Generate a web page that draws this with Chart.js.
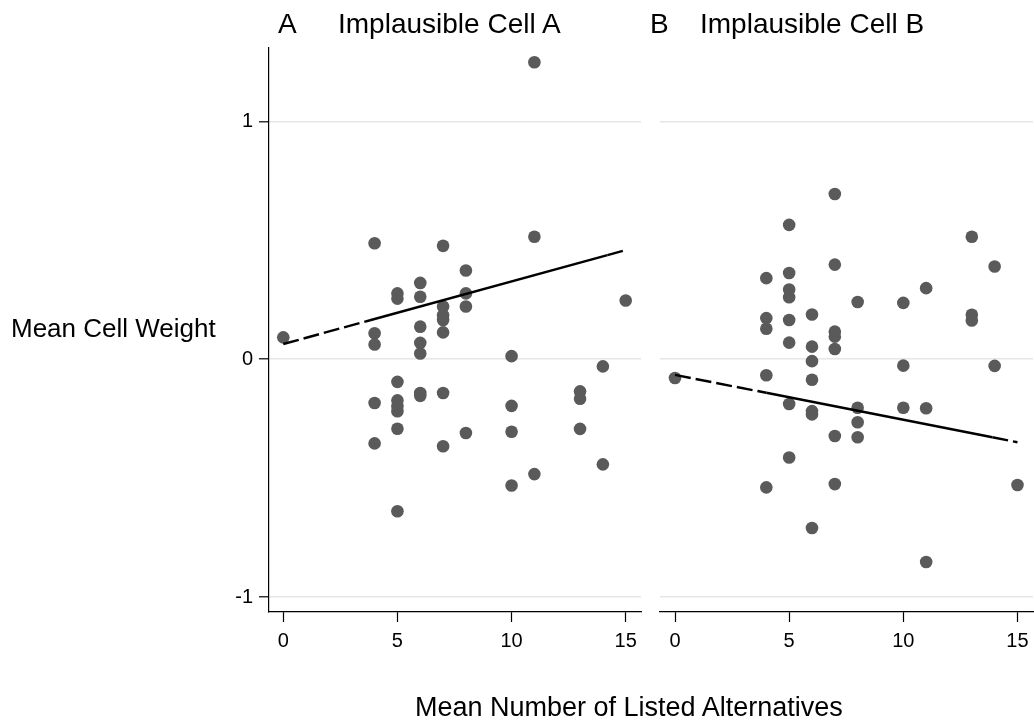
<!DOCTYPE html>
<html>
<head>
<meta charset="utf-8">
<script src="https://cdn.jsdelivr.net/npm/chart.js@4/dist/chart.umd.min.js"></script>
<style>
  html, body { margin: 0; padding: 0; background: #fff; }
  body { width: 1034px; height: 724px; position: relative; overflow: hidden; font-family: "Liberation Sans", Arial, sans-serif; color: #000; }
  canvas { position: absolute; top: 0; }
  .t { position: absolute; white-space: nowrap; line-height: 1; }
</style>
</head>
<body>
<canvas id="cA" width="650" height="724" style="left:0;width:650px;height:724px"></canvas>
<canvas id="cB" width="384" height="724" style="left:650px;width:384px;height:724px"></canvas>
<div class="t" style="left:278px;top:10px;font-size:28px">A</div>
<div class="t" style="left:338px;top:10px;font-size:28px">Implausible Cell A</div>
<div class="t" style="left:650px;top:10px;font-size:28px">B</div>
<div class="t" style="left:700px;top:10px;font-size:28px">Implausible Cell B</div>
<div class="t" style="left:11px;top:315px;font-size:26px">Mean Cell Weight</div>
<div class="t" style="left:415px;top:694px;font-size:27px">Mean Number of Listed Alternatives</div>
<script>
// ---- data ----
const xTicks = [0, 5, 10, 15];
const yTicks = [-1, 0, 1];

const aX = [0, 4,4,4,4,4, 5,5,5,5,5,5,5,5, 6,6,6,6,6,6,6, 7,7,7,7,7,7,7, 8,8,8,8, 10,10,10,10, 11,11,11, 13,13,13, 14,14, 15];
const aY = [0.092,
  0.488, 0.109, 0.062, -0.184, -0.354,
  0.277, 0.255, -0.095, -0.173, -0.198, -0.219, -0.292, -0.639,
  0.321, 0.263, 0.137, 0.069, 0.024, -0.142, -0.154,
  0.477, 0.222, 0.185, 0.165, 0.113, -0.142, -0.366,
  0.373, 0.277, 0.222, -0.310,
  0.013, -0.196, -0.305, -0.531,
  1.249, 0.515, -0.483,
  -0.135, -0.166, -0.293,
  -0.030, -0.442,
  0.247];

const bX = [0, 4,4,4,4,4, 5,5,5,5,5,5,5,5, 6,6,6,6,6,6,6, 7,7,7,7,7,7,7, 8,8,8,8, 10,10,10, 11,11,11, 13,13,13, 14,14, 15];
const bY = [-0.079,
  0.341, 0.173, 0.128, -0.067, -0.539,
  0.565, 0.363, 0.293, 0.261, 0.165, 0.070, -0.188, -0.413,
  0.188, 0.053, -0.008, -0.086, -0.218, -0.232, -0.710,
  0.695, 0.398, 0.116, 0.095, 0.043, -0.323, -0.525,
  0.241, -0.204, -0.265, -0.328,
  0.237, -0.027, -0.204,
  0.299, -0.206, -0.853,
  0.515, 0.187, 0.163,
  0.390, -0.028,
  -0.529];

// fitted lines (dashed outside the bulk of data, solid inside)
const fitAX = [0, 3.8, 14.2, 15];
const fitAY = [0.064, 0.164, 0.438, 0.459];
const fitBX = [0, 4.0, 13.9, 15];
const fitBY = [-0.066, -0.141, -0.328, -0.349];
const fitSolid = [false, true, false]; // per segment

const pointColor = '#5a5a5a';
const fontFamily = '"Liberation Sans", Arial, sans-serif';

function pts(xs, ys) { return xs.map((x, i) => ({ x: x, y: ys[i] })); }

function makeChart(id, xs, ys, fx, fy, opts) {
  return new Chart(document.getElementById(id), {
    type: 'scatter',
    data: {
      datasets: [
        {
          type: 'line',
          data: pts(fx, fy),
          borderColor: '#000',
          borderWidth: 2.4,
          pointRadius: 0,
          fill: false,
          tension: 0,
          order: 0,
          clip: false,
          segment: {
            borderDash: ctx => fitSolid[ctx.p0DataIndex] ? [] : [16, 5]
          }
        },
        {
          data: pts(xs, ys),
          backgroundColor: pointColor,
          borderColor: pointColor,
          borderWidth: 0,
          pointRadius: 6.3,
          clip: false,
          order: 1
        }
      ]
    },
    options: {
      responsive: false,
      animation: false,
      events: [],
      layout: { padding: opts.padding, autoPadding: false },
      plugins: { legend: { display: false }, tooltip: { enabled: false } },
      scales: {
        x: {
          type: 'linear',
          min: opts.xmin, max: opts.xmax,
          afterBuildTicks: s => { s.ticks = xTicks.map(v => ({ value: v })); },
          afterFit: s => { s.height = 112; s.paddingLeft = 0; s.paddingRight = 0; },
          grid: { drawOnChartArea: false, drawTicks: true, tickLength: 10, color: '#000', tickColor: '#000', tickWidth: 1.2 },
          border: { display: true, color: '#000', width: 1.2 },
          ticks: { color: '#000', padding: 7, maxRotation: 0, font: { family: fontFamily, size: 20 } }
        },
        y: {
          type: 'linear',
          min: -1.063, max: 1.309,
          afterBuildTicks: s => { s.ticks = yTicks.map(v => ({ value: v })); },
          afterFit: s => { s.width = opts.yWidth; s.paddingTop = 0; s.paddingBottom = 0; },
          grid: { drawOnChartArea: true, drawTicks: opts.showY, tickLength: 10, color: '#e6e6e6', lineWidth: 1.6, tickColor: '#000', tickWidth: 1.2 },
          border: { display: opts.showY, color: '#000', width: 1.2 },
          ticks: { display: opts.showY, color: '#000', padding: 6, font: { family: fontFamily, size: 20 } }
        }
      }
    }
  });
}

makeChart('cA', aX, aY, fitAX, fitAY, { padding: { left: 0, right: 9, top: 48, bottom: 0 }, xmin: -0.626, xmax: 15.67, yWidth: 269, showY: true });
makeChart('cB', bX, bY, fitBX, fitBY, { padding: { left: 10, right: 1, top: 48, bottom: 0 }, xmin: -0.657, xmax: 15.68, yWidth: 0, showY: false });
</script>
</body>
</html>
